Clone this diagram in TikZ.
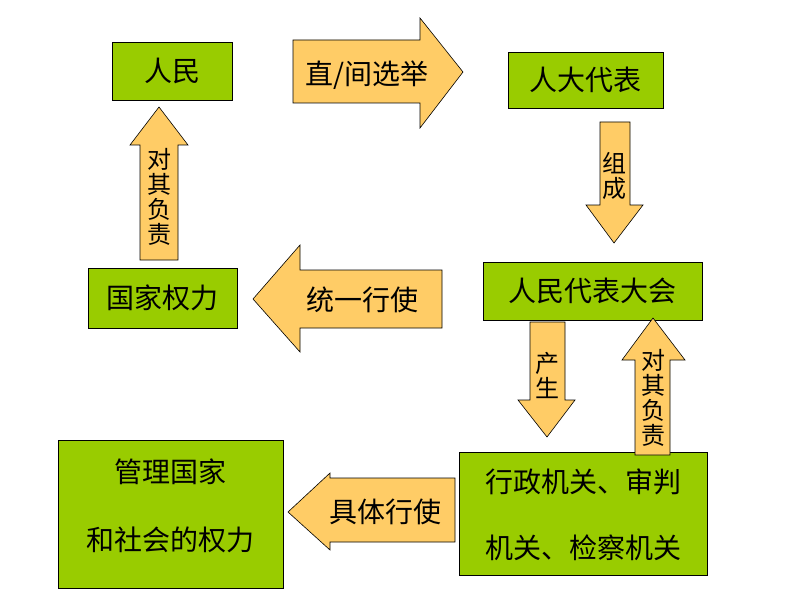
\documentclass[tikz,border=0pt]{standalone}
\usepackage{fontspec}
\setmainfont{Noto Sans CJK SC}
\begin{document}
\begin{tikzpicture}[x=1pt,y=-1pt,
  box/.style={draw=black,fill=boxgreen,line width=0.8pt},
  arr/.style={draw=black,fill=arrorange,line width=0.6pt,line join=miter},
  txt/.style={font=\fontsize{28}{30}\selectfont,text=black},
  vtxt/.style={font=\fontsize{24}{25}\selectfont,align=center,text=black,inner sep=0pt}]
\definecolor{boxgreen}{HTML}{99CC00}
\definecolor{arrorange}{HTML}{FFCC66}
\useasboundingbox (0,0) rectangle (794,596);
% boxes
\draw[box] (112,42) rectangle (232,100); \node[txt] (rm) at (172,71) {人民};
\draw[box] (508,52) rectangle (663,108); \node[txt] (rd) at (585,80) {人大代表};
\draw[box] (88,268) rectangle (237,328); \node[txt] (gj) at (162,298) {国家权力};
\draw[box] (483,262) rectangle (702,320); \node[txt] (rmd) at (592,291) {人民代表大会};
\draw[box] (58,440) rectangle (283,588);
\node[txt] (gl1) at (170,472) {管理国家};
\node[txt] (gl2) at (170,540) {和社会的权力};
\draw[box] (459,452) rectangle (707,575);
\node[txt] (xz1) at (583,482) {行政机关、审判};
\node[txt] (xz2) at (583,548) {机关、检察机关};
% arrows
\draw[arr] (293,40) -- (420,40) -- (420,18) -- (463,72) -- (420,128) -- (420,103) -- (293,103) -- cycle;
\node[txt] (a1) at (367,75) {直/间选举};
\draw[arr] (600,122) -- (630,122) -- (630,205) -- (643,205) -- (614,243) -- (586,205) -- (600,205) -- cycle;
\node[vtxt] (a2) at (614,176) {组\\成};
\draw[arr] (140,260) -- (178,260) -- (178,145) -- (188,145) -- (159,107) -- (130,145) -- (140,145) -- cycle;
\node[vtxt] (a3) at (159,197) {对\\其\\负\\责};
\draw[arr] (442,270) -- (300,270) -- (300,245) -- (253,299) -- (300,352) -- (300,328) -- (442,328) -- cycle;
\node[txt] (a4) at (362,300) {统一行使};
\draw[arr] (530,322) -- (565,322) -- (565,400) -- (575,400) -- (547,437) -- (518,400) -- (530,400) -- cycle;
\node[vtxt] (a5) at (547,375) {产\\生};
\draw[arr] (635,455) -- (670,455) -- (670,360) -- (685,360) -- (653,318) -- (622,360) -- (635,360) -- cycle;
\node[vtxt] (a6) at (653,398) {对\\其\\负\\责};
\draw[arr] (455,478) -- (330,478) -- (330,473) -- (288,512) -- (330,550) -- (330,542) -- (455,542) -- cycle;
\node[txt] (a7) at (385,512) {具体行使};
\end{tikzpicture}
\end{document}
